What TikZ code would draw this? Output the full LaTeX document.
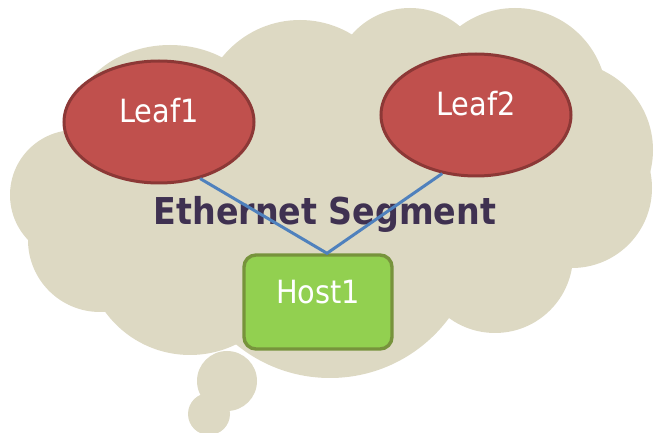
\documentclass[tikz,border=0pt]{standalone}
\usepackage{fontspec}
\setmainfont{DejaVu Sans Condensed}
\definecolor{CloudTan}{RGB}{221,217,195}
\definecolor{LeafRed}{RGB}{192,80,77}
\definecolor{LeafEdge}{RGB}{140,56,54}
\definecolor{HostGreen}{RGB}{146,208,80}
\definecolor{HostEdge}{RGB}{119,147,60}
\definecolor{LinkBlue}{RGB}{79,129,189}
\definecolor{SegPurple}{RGB}{63,49,81}
\usetikzlibrary{shapes.geometric}
\tikzset{
  puff/.style={fill=CloudTan,draw=none},
  leaf/.style={ellipse,draw=LeafEdge,line width=1.5pt,fill=LeafRed,minimum width=95pt,minimum height=61pt,text=white,font=\fontsize{16pt}{19pt}\selectfont,text height=12pt,text depth=11.4pt},
  host/.style={rectangle,rounded corners=6pt,draw=HostEdge,line width=1.7pt,fill=HostGreen,minimum width=74pt,minimum height=47pt,text=white,font=\fontsize{16pt}{19pt}\selectfont,text height=12pt,text depth=10.4pt},
  seg/.style={text=SegPurple,font=\fontsize{18.5pt}{22pt}\selectfont\bfseries},
  link/.style={draw=LinkBlue,line width=1.5pt},
}
\begin{document}
\begin{tikzpicture}[x=0.5pt,y=-0.5pt]
    \useasboundingbox (0,0) rectangle (655,433);
    % cloud
    \fill[puff] (330,190) ellipse[x radius=125pt,y radius=65pt];
    \fill[puff] (75,195) circle[radius=32.5pt]; \fill[puff] (170,130) ellipse[x radius=50pt,y radius=42.5pt];
    \fill[puff] (300,120) circle[radius=50pt]; \fill[puff] (410,85) circle[radius=38.5pt];
    \fill[puff] (515,100) circle[radius=46pt]; \fill[puff] (565,150) circle[radius=44pt];
    \fill[puff] (572,188) circle[radius=40pt]; \fill[puff] (495,255) circle[radius=39pt];
    \fill[puff] (330,230) circle[radius=74pt]; \fill[puff] (190,250) circle[radius=52.5pt];
    \fill[puff] (100,240) circle[radius=36pt];
    \fill[puff] (227,381) circle[radius=15pt]; \fill[puff] (209,414) circle[radius=10.5pt];
    % nodes
    \node[leaf] (leaf1) at (159,122) {Leaf1};
    \node[leaf] (leaf2) at (476,115) {Leaf2};
    \node[host] (host1) at (318,302) {Host1};
    \node[seg,anchor=base] (es) at (325,225) {Ethernet Segment};
    \coordinate (apex) at ([xshift=4.5pt]host1.north);
    \draw[link] (leaf1.-54)--(apex)--(leaf2.-120);
  \end{tikzpicture}
\end{document}
